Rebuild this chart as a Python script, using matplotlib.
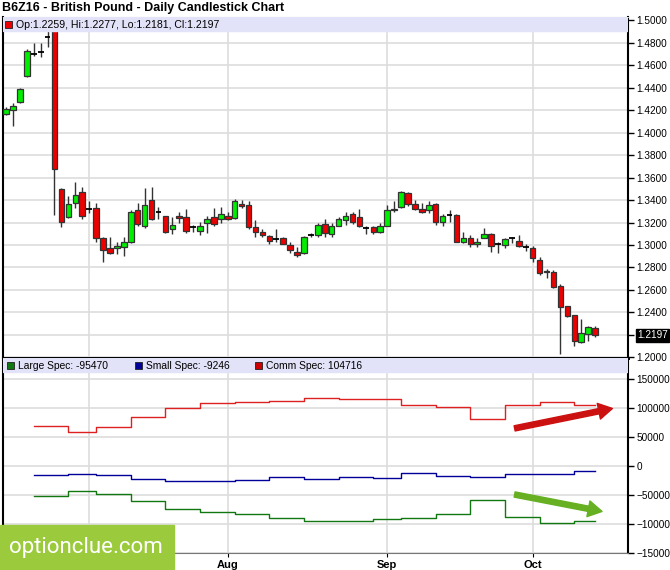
import matplotlib.pyplot as plt
import numpy as np
from matplotlib.patches import Rectangle

plt.rcParams['font.family'] = ['Liberation Sans', 'DejaVu Sans']

# daily OHLC, B6Z16 (late June -> mid Oct 2016)
opens = [1.4168, 1.4197, 1.4274, 1.4505, 1.4701, 1.4719, 1.4852, 1.4960, 1.3502, 1.3253,
         1.3378, 1.3475, 1.3324, 1.3333, 1.3058, 1.2969, 1.2969, 1.2978, 1.3031, 1.3307,
         1.3165, 1.3404, 1.3298, 1.3262, 1.3138, 1.3262, 1.3253, 1.3156, 1.3129, 1.3200,
         1.3253, 1.3227, 1.3262, 1.3244, 1.3369, 1.3360, 1.3156, 1.3120, 1.3076, 1.3049,
         1.3058, 1.2996, 1.2942, 1.2925, 1.3085, 1.3093, 1.3191, 1.3102, 1.3173, 1.3218,
         1.3280, 1.3253, 1.3147, 1.3156, 1.3120, 1.3165, 1.3307, 1.3342, 1.3466, 1.3369,
         1.3324, 1.3307, 1.3369, 1.3209, 1.3271, 1.3271, 1.3031, 1.3058, 1.3013, 1.3058,
         1.3102, 1.3005, 1.2996, 1.3058, 1.3040, 1.2978, 1.2969, 1.2871, 1.2756, 1.2756,
         1.2632, 1.2454, 1.2374, 1.2134, 1.2205, 1.2259]
highs = [1.4230, 1.4266, 1.4400, 1.4745, 1.4798, 1.4798, 1.4914, 1.5020, 1.3511, 1.3440,
         1.3564, 1.3520, 1.3387, 1.3378, 1.3067, 1.3067, 1.3031, 1.3067, 1.3315, 1.3378,
         1.3511, 1.3520, 1.3342, 1.3262, 1.3253, 1.3298, 1.3324, 1.3182, 1.3209, 1.3262,
         1.3333, 1.3342, 1.3298, 1.3413, 1.3404, 1.3387, 1.3218, 1.3138, 1.3093, 1.3138,
         1.3067, 1.3031, 1.2978, 1.3076, 1.3111, 1.3200, 1.3227, 1.3200, 1.3253, 1.3298,
         1.3298, 1.3324, 1.3173, 1.3165, 1.3200, 1.3360, 1.3387, 1.3484, 1.3475, 1.3404,
         1.3378, 1.3387, 1.3378, 1.3280, 1.3307, 1.3280, 1.3120, 1.3093, 1.3058, 1.3147,
         1.3111, 1.3031, 1.3058, 1.3067, 1.3085, 1.3005, 1.2987, 1.2889, 1.2783, 1.2774,
         1.2650, 1.2454, 1.2374, 1.2339, 1.2277, 1.2277]
lows = [1.4159, 1.4061, 1.4266, 1.4496, 1.4683, 1.4674, 1.4763, 1.3268, 1.3156, 1.3244,
        1.3333, 1.3227, 1.3289, 1.3031, 1.2845, 1.2916, 1.2916, 1.2898, 1.3022, 1.3165,
        1.3147, 1.3218, 1.3235, 1.3111, 1.3102, 1.3200, 1.3111, 1.3120, 1.3093, 1.3111,
        1.3165, 1.3200, 1.3218, 1.3227, 1.3333, 1.3138, 1.3067, 1.3067, 1.3005, 1.3031,
        1.3005, 1.2933, 1.2889, 1.2916, 1.3067, 1.3067, 1.3067, 1.3067, 1.3165, 1.3182,
        1.3191, 1.3156, 1.3102, 1.3102, 1.3111, 1.3165, 1.3298, 1.3333, 1.3351, 1.3307,
        1.3289, 1.3289, 1.3182, 1.3165, 1.3209, 1.3031, 1.3022, 1.2978, 1.2978, 1.3058,
        1.2942, 1.2933, 1.2969, 1.3022, 1.2978, 1.2951, 1.2845, 1.2729, 1.2711, 1.2614,
        1.2028, 1.2356, 1.2099, 1.2125, 1.2143, 1.2181]
closes = [1.4212, 1.4239, 1.4390, 1.4727, 1.4701, 1.4719, 1.4852, 1.3680, 1.3209, 1.3369,
          1.3449, 1.3262, 1.3324, 1.3058, 1.2960, 1.2933, 1.2987, 1.3031, 1.3298, 1.3191,
          1.3360, 1.3235, 1.3298, 1.3120, 1.3182, 1.3244, 1.3129, 1.3156, 1.3165, 1.3235,
          1.3191, 1.3280, 1.3235, 1.3387, 1.3351, 1.3156, 1.3120, 1.3085, 1.3040, 1.3049,
          1.3013, 1.2960, 1.2907, 1.3067, 1.3085, 1.3182, 1.3111, 1.3173, 1.3235, 1.3262,
          1.3209, 1.3165, 1.3147, 1.3120, 1.3165, 1.3307, 1.3324, 1.3475, 1.3369, 1.3324,
          1.3298, 1.3360, 1.3209, 1.3262, 1.3271, 1.3031, 1.3058, 1.3013, 1.3031, 1.3102,
          1.2987, 1.3005, 1.3049, 1.3058, 1.2987, 1.2978, 1.2880, 1.2747, 1.2765, 1.2623,
          1.2445, 1.2365, 1.2143, 1.2214, 1.2268, 1.2197]

month_pos = [12, 32, 55, 76]
month_labels = ['Jul', 'Aug', 'Sep', 'Oct']

# weekly COT positions (bar index where each report starts)
cot_pos = [4, 9, 13, 18, 23, 28, 33, 38, 43, 48, 53, 57, 62, 67, 72, 77, 82]
cot_end = 85
large_spec = [-51200, -42500, -47700, -59800, -74700, -79800, -83300, -89700, -94300,
              -94800, -91400, -89100, -82800, -58600, -87400, -97700, -95470]
small_spec = [-16000, -14300, -16000, -22400, -25900, -25900, -24100, -19500, -21900,
              -19500, -21200, -12600, -17200, -19500, -14300, -13200, -9246]
comm_spec = [69000, 58000, 67000, 84000, 100500, 108000, 110000, 111500, 117800,
             116000, 116000, 104600, 102000, 81000, 104600, 110900, 104716]

price_ticks = np.arange(1.20, 1.5001, 0.02)
cot_ticks = [150000, 100000, 50000, 0, -50000, -100000, -150000]

W, H = 670, 570
fig = plt.figure(figsize=(W / 100, H / 100), dpi=100)
ax1 = fig.add_axes([3 / W, 1 - 358 / H, 625 / W, 341 / H])
ax2 = fig.add_axes([3 / W, 1 - 553 / H, 625 / W, 195 / H], sharex=ax1)

# candles
x = np.arange(len(opens))
o = np.array(opens)
c = np.array(closes)
up = c > o
dn = c < o
flat = c == o
ax1.vlines(x, lows, highs, color='#333333', lw=1, zorder=3)
ax1.bar(x[up], (c - o)[up], bottom=o[up], width=0.8, color='#00ee00',
        edgecolor='#333333', lw=0.9, zorder=4)
ax1.bar(x[dn], (o - c)[dn], bottom=c[dn], width=0.8, color='#ee0000',
        edgecolor='#333333', lw=0.9, zorder=4)
ax1.hlines(o[flat], x[flat] - 0.42, x[flat] + 0.42, color='black', lw=1.3, zorder=4)

ax1.set_xlim(-0.43, 89.75)
ax1.set_ylim(1.1995, 1.5028)
ax1.set_yticks(price_ticks)
ax1.set_yticklabels(['' if abs(t - 1.22) < 1e-6 else '%.4f' % t for t in price_ticks])
ax1.yaxis.tick_right()
ax1.set_xticks(month_pos)
ax1.tick_params(axis='x', bottom=False, labelbottom=False)
ax1.tick_params(axis='y', direction='out', length=4, width=1, labelsize=7.2, pad=2)
ax1.grid(True, color='#dddddd', lw=1.2)
ax1.set_axisbelow(True)

# last price box
ax1.text(1.0144, 1.2197, '1.2197', transform=ax1.get_yaxis_transform(), color='white',
         fontsize=7.2, va='center', ha='left', zorder=10, clip_on=False,
         bbox=dict(boxstyle='square,pad=0.15', fc='black', ec='black'))

# COT lines
xs = cot_pos + [cot_end]
ax2.step(xs, comm_spec + [comm_spec[-1]], where='post', color='#dd2020', lw=1)
ax2.step(xs, small_spec + [small_spec[-1]], where='post', color='#000099', lw=1)
ax2.step(xs, large_spec + [large_spec[-1]], where='post', color='#117711', lw=1)
ax2.set_ylim(-150000, 186000)
ax2.set_yticks(cot_ticks)
ax2.set_yticklabels([str(t).replace('-', '\u2212') for t in cot_ticks])
ax2.yaxis.tick_right()
ax2.set_xticks(month_pos)
ax2.set_xticklabels(month_labels, fontweight='bold', fontsize=8)
ax2.tick_params(axis='x', direction='out', length=3, pad=2)
ax2.tick_params(axis='y', direction='out', length=4, width=1, labelsize=7.2, pad=2)
ax2.grid(True, color='#dddddd', lw=1.2)
ax2.set_axisbelow(True)

# trend arrows
ax2.annotate('', xy=(87.9, 100000), xytext=(73.0, 63800),
             arrowprops=dict(arrowstyle='simple,head_width=1.15,head_length=1.0,tail_width=0.38',
                             mutation_scale=10, color='#cc1111'))
ax2.annotate('', xy=(86.4, -79300), xytext=(73.0, -48300),
             arrowprops=dict(arrowstyle='simple,head_width=1.15,head_length=1.0,tail_width=0.38',
                             mutation_scale=10, color='#66b022'))

for ax in (ax1, ax2):
    ax.spines['left'].set_color('black')
    ax.spines['left'].set_linewidth(1.5)
    ax.spines['right'].set_color('black')
    ax.spines['right'].set_linewidth(1.5)
ax1.spines['top'].set_color('#bbbbbb')
ax1.spines['bottom'].set_linewidth(2)
ax2.spines['top'].set_linewidth(2)
ax2.spines['bottom'].set_color('#777777')

# legend bands
ax1.add_patch(Rectangle((0, 1 - 14 / 341), 1, 14 / 341, transform=ax1.transAxes,
                        color='#e2e2f8', zorder=6))
ax2.add_patch(Rectangle((0, 1 - 14 / 195), 1, 14 / 195, transform=ax2.transAxes,
                        color='#e2e2f8', zorder=6))


def sq(xp, yp, col):
    fig.add_artist(Rectangle((xp / W, 1 - (yp + 7) / H), 7 / W, 7 / H, facecolor=col,
                             edgecolor='#222222', lw=0.6, transform=fig.transFigure, zorder=12))


def lab(xp, yp, s, size):
    fig.text(xp / W, 1 - yp / H, s, fontsize=size, va='center', ha='left', zorder=12)


sq(5, 21, '#ee0000')
lab(16, 25, 'Op:1.2259, Hi:1.2277, Lo:1.2181, Cl:1.2197', 7.6)
sq(7, 362, '#117711')
lab(18, 366, 'Large Spec: -95470', 7.4)
sq(135, 362, '#000099')
lab(146, 366, 'Small Spec: -9246', 7.4)
sq(255, 362, '#cc0000')
lab(266, 366, 'Comm Spec: 104716', 7.4)

fig.text(2 / W, 1 - 8 / H, 'B6Z16 - British Pound - Daily Candlestick Chart',
         fontsize=9, fontweight='bold', va='center', ha='left')

# watermark
fig.add_artist(Rectangle((0, 0), 174 / W, 45 / H, color='#9bcb3c',
                         transform=fig.transFigure, zorder=20))
fig.text(86 / W, 1 - 548 / H, 'optionclue.com', color='white', fontsize=16,
         family='Roboto', ha='center', va='center', zorder=21)

fig.savefig('out.png', dpi=100)
